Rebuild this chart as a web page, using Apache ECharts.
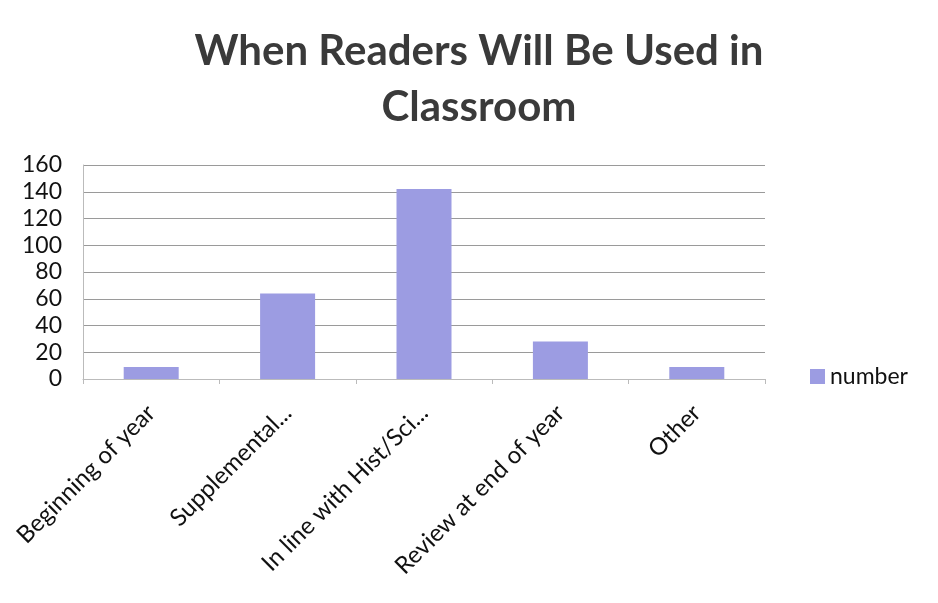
<!DOCTYPE html>
<html>
<head>
<meta charset="utf-8">
<script src="https://cdn.jsdelivr.net/npm/echarts@6/dist/echarts.min.js"></script>
<style>
  html, body { margin: 0; padding: 0; background: #fff; }
  #chart { width: 938px; height: 603px; }
</style>
</head>
<body>
<div id="chart"></div>
<script>
// chart data
const categories = ['Beginning of year', 'Supplemental...', 'In line with Hist/Sci...', 'Review at end of year', 'Other'];
const numberValues = [9, 64, 142, 28, 9];
const yTicks = [0, 20, 40, 60, 80, 100, 120, 140, 160];

const chart = echarts.init(document.getElementById('chart'), null, { renderer: 'canvas' });

chart.setOption({
    backgroundColor: '#fff',
    animation: false,
    title: {
        text: 'When Readers Will Be Used in\nClassroom',
        left: 474,
        top: 18,
        textAlign: 'center',
        textStyle: {
            fontFamily: 'Lato',
            fontWeight: 'bold',
            fontSize: 42,
            lineHeight: 56,
            color: '#3a3a3a'
        }
    },
    legend: {
        data: ['number'],
        left: 805,
        top: 360,
        itemWidth: 15,
        itemHeight: 15,
        itemGap: 7,
        icon: 'rect',
        textStyle: { fontFamily: 'Lato', fontSize: 23, color: '#111' }
    },
    grid: { left: 83, right: 173, top: 165, bottom: 224 },
    xAxis: {
        type: 'category',
        data: categories,
        axisLine: { lineStyle: { color: '#bbb' } },
        axisTick: { show: true, lineStyle: { color: '#bbb' } },
        axisLabel: {
            rotate: 45,
            interval: 0,
            margin: 30,
            fontFamily: 'Lato',
            fontSize: 24,
            color: '#111'
        }
    },
    yAxis: {
        type: 'value',
        min: yTicks[0],
        max: yTicks[yTicks.length - 1],
        interval: 20,
        axisLine: { show: true, lineStyle: { color: '#bbb' } },
        axisTick: { show: false },
        splitLine: { lineStyle: { color: '#9a9a9a', width: 1 } },
        axisLabel: {
            margin: 21,
            fontFamily: 'Lato',
            fontSize: 23,
            color: '#111'
        }
    },
    series: [{
        name: 'number',
        type: 'bar',
        data: numberValues,
        barWidth: 55,
        itemStyle: { color: '#9c9ce2' }
    }]
});
</script>
</body>
</html>
